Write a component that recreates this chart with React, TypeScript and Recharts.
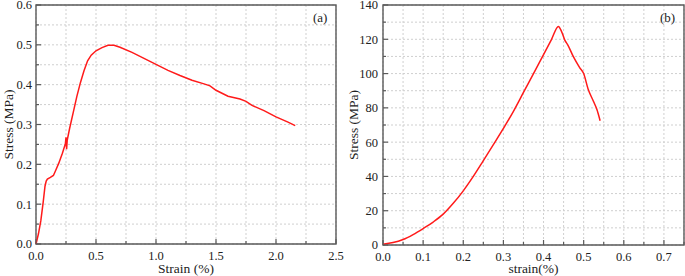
import React from 'react';
import { LineChart, Line, XAxis, YAxis, CartesianGrid, ReferenceArea, Label } from 'recharts';

// (a) strain-stress, first specimen
const strainA = [0, 0.02, 0.04, 0.06, 0.075, 0.085, 0.095, 0.12, 0.145, 0.16, 0.19, 0.22, 0.245, 0.25, 0.255, 0.26, 0.28, 0.31, 0.34, 0.37, 0.4, 0.43, 0.46, 0.5, 0.55, 0.6, 0.65, 0.7, 0.8, 0.9, 1.0, 1.1, 1.2, 1.3, 1.4, 1.45, 1.5, 1.6, 1.7, 1.75, 1.8, 1.9, 2.0, 2.1, 2.16];
const stressA = [0, 0.025, 0.058, 0.105, 0.145, 0.158, 0.163, 0.167, 0.172, 0.182, 0.203, 0.228, 0.252, 0.268, 0.238, 0.26, 0.29, 0.33, 0.37, 0.405, 0.435, 0.46, 0.474, 0.485, 0.493, 0.499, 0.499, 0.494, 0.481, 0.466, 0.451, 0.436, 0.423, 0.411, 0.402, 0.397, 0.386, 0.371, 0.364, 0.358, 0.348, 0.335, 0.319, 0.306, 0.297];

// (b) strain-stress, second specimen
const strainB = [0, 0.025, 0.05, 0.075, 0.1, 0.125, 0.15, 0.175, 0.2, 0.225, 0.25, 0.275, 0.3, 0.325, 0.35, 0.375, 0.4, 0.42, 0.437, 0.445, 0.453, 0.461, 0.474, 0.49, 0.5, 0.511, 0.524, 0.533, 0.541];
const stressB = [0.5, 1.4, 3.2, 6.1, 9.6, 13.4, 18, 24.3, 31.6, 40, 49.2, 58.5, 68, 78, 89, 100, 111, 120, 127.5, 124.5, 119.5, 116.5, 110, 103.5, 100, 91, 84, 79, 72.5];

const xMajorA = [0, 0.5, 1, 1.5, 2, 2.5];
const xMinorA = [0.25, 0.75, 1.25, 1.75, 2.25];
const yMajorA = [0, 0.1, 0.2, 0.3, 0.4, 0.5, 0.6];
const yMinorA = [0.05, 0.15, 0.25, 0.35, 0.45, 0.55];

const xMajorB = [0, 0.1, 0.2, 0.3, 0.4, 0.5, 0.6, 0.7];
const xMinorB = [0.05, 0.15, 0.25, 0.35, 0.45, 0.55, 0.65, 0.75];
const yMajorB = [0, 20, 40, 60, 80, 100, 120, 140];
const yMinorB = [10, 30, 50, 70, 90, 110, 130];

const dataA = strainA.map((s, i) => ({ strain: s, stress: stressA[i] }));
const dataB = strainB.map((s, i) => ({ strain: s, stress: stressB[i] }));

const merge = (a: number[], b: number[]) => [...a, ...b].sort((p, q) => p - q);

const AXIS = '#5a5a5a';
const FONT = '"Liberation Serif", "Times New Roman", serif';

function XTick({ x, y, payload, major, fmt }: any) {
  const isMajor = major.includes(payload.value);
  return (
    <g>
      <line x1={x} x2={x} y1={y} y2={y - (isMajor ? 5 : 3)} stroke={AXIS} strokeWidth={1.2} />
      {isMajor && (
        <text x={x} y={y + 16} textAnchor='middle' fontFamily={FONT} fontSize={12.5} fill='#222'>
          {fmt(payload.value)}
        </text>
      )}
    </g>
  );
}

function YTick({ x, y, payload, major, fmt, gap }: any) {
  const isMajor = major.includes(payload.value);
  return (
    <g>
      <line x1={x} x2={x + (isMajor ? 5 : 3)} y1={y} y2={y} stroke={AXIS} strokeWidth={1.2} />
      {isMajor && (
        <text x={x - gap} y={y} dy='0.35em' textAnchor='end' fontFamily={FONT} fontSize={12.5} fill='#222'>
          {fmt(payload.value)}
        </text>
      )}
    </g>
  );
}

export default function App() {
  return (
    <div style={{ position: 'fixed', left: 0, top: 0, width: 685, height: 276, background: '#fff' }}>
      <div style={{ position: 'absolute', left: 0, top: 0 }}>
        <LineChart width={350} height={276} data={dataA} margin={{ top: 5, right: 14, left: 0, bottom: 0 }}>
          <CartesianGrid stroke='#cfcfcf' strokeDasharray='2 2' verticalValues={merge(xMajorA, xMinorA)} horizontalValues={merge(yMajorA, yMinorA)} />
          <XAxis
            dataKey='strain'
            type='number'
            domain={[0, 2.5]}
            ticks={merge(xMajorA, xMinorA)}
            height={32}
            tickSize={0}
            tickMargin={0}
            tickLine={false}
            axisLine={false}
            interval={0}
            tick={(p: any) => <XTick {...p} major={xMajorA} fmt={(v: number) => v.toFixed(1)} />}
          >
            <Label value='Strain (%)' position='insideBottom' offset={3} fontFamily={FONT} fontSize={13.5} fill='#222' />
          </XAxis>
          <YAxis
            dataKey='stress'
            type='number'
            domain={[0, 0.6]}
            ticks={merge(yMajorA, yMinorA)}
            width={36}
            tickSize={0}
            tickMargin={0}
            tickLine={false}
            axisLine={false}
            interval={0}
            tick={(p: any) => <YTick {...p} major={yMajorA} gap={4} fmt={(v: number) => v.toFixed(1)} />}
          >
            <Label value='Stress (MPa)' angle={-90} position='insideLeft' offset={8} fontFamily={FONT} fontSize={13.5} fill='#222' textAnchor='middle' />
          </YAxis>
          <ReferenceArea x1={0} x2={2.5} y1={0} y2={0.6} fill='none' stroke={AXIS} strokeWidth={1.4} />
          <Line type='linear' dataKey='stress' stroke='#ff1a1a' strokeWidth={1.5} dot={false} isAnimationActive={false} />
        </LineChart>
        <div style={{ position: 'absolute', left: 313, top: 10, fontFamily: FONT, fontSize: 13, color: '#222' }}>(a)</div>
      </div>
      <div style={{ position: 'absolute', left: 340, top: 0 }}>
        <LineChart width={345} height={276} data={dataB} margin={{ top: 5, right: 1, left: 0, bottom: 0 }}>
          <CartesianGrid stroke='#cfcfcf' strokeDasharray='2 2' verticalValues={merge(xMajorB, xMinorB)} horizontalValues={merge(yMajorB, yMinorB)} />
          <XAxis
            dataKey='strain'
            type='number'
            domain={[0, 0.75]}
            ticks={merge(xMajorB, xMinorB)}
            height={31}
            tickSize={0}
            tickMargin={0}
            tickLine={false}
            axisLine={false}
            interval={0}
            tick={(p: any) => <XTick {...p} major={xMajorB} fmt={(v: number) => v.toFixed(1)} />}
          >
            <Label value='strain(%)' position='insideBottom' offset={3} fontFamily={FONT} fontSize={13.5} fill='#222' />
          </XAxis>
          <YAxis
            dataKey='stress'
            type='number'
            domain={[0, 140]}
            ticks={merge(yMajorB, yMinorB)}
            width={43}
            tickSize={0}
            tickMargin={0}
            tickLine={false}
            axisLine={false}
            interval={0}
            tick={(p: any) => <YTick {...p} major={yMajorB} gap={5} fmt={(v: number) => String(v)} />}
          >
            <Label value='Stress (MPa)' angle={-90} position='insideLeft' offset={13} fontFamily={FONT} fontSize={13.5} fill='#222' textAnchor='middle' />
          </YAxis>
          <ReferenceArea x1={0} x2={0.75} y1={0} y2={140} fill='none' stroke={AXIS} strokeWidth={1.4} />
          <Line type='monotone' dataKey='stress' stroke='#ff1a1a' strokeWidth={1.5} dot={false} isAnimationActive={false} />
        </LineChart>
        <div style={{ position: 'absolute', left: 320, top: 10, fontFamily: FONT, fontSize: 13, color: '#222' }}>(b)</div>
      </div>
    </div>
  );
}
